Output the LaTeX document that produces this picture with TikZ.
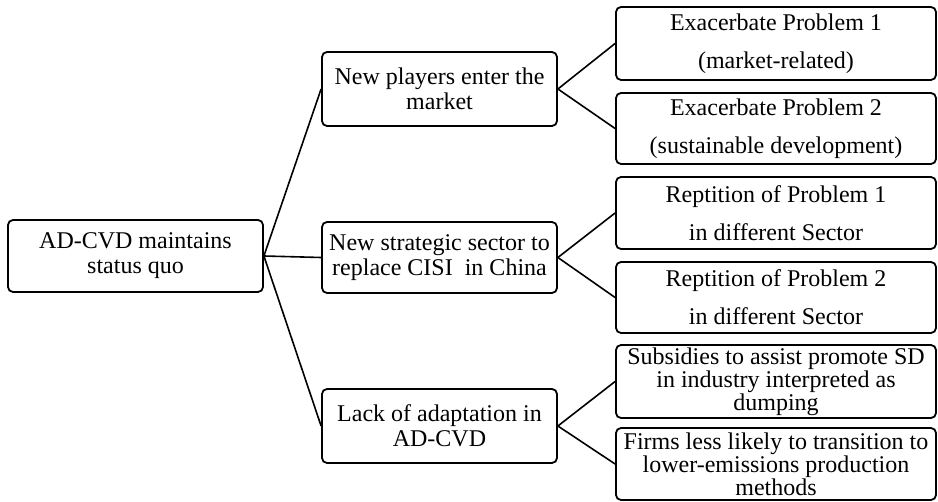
\documentclass[tikz,border=0pt]{standalone}
\usepackage{fontspec}
\setmainfont{Liberation Serif}
\begin{document}
\begin{tikzpicture}[x=1pt,y=-1pt,
  box/.style={draw=black, line width=1.8pt, rounded corners=5pt, inner sep=0pt, align=center,
    font=\fontsize{24}{25}\selectfont},
  wide/.style={box, font=\fontsize{24}{38}\selectfont},
  tight/.style={box, font=\fontsize{24}{23}\selectfont},
  link/.style={draw=black, line width=1.6pt}]
\useasboundingbox (0,0) rectangle (938,502);
\node[box, minimum width=255pt, minimum height=72pt] (root) at (135.5,256) {AD-CVD maintains\\status quo};
\node[box, minimum width=235pt, minimum height=74pt] (np) at (439.5,89) {New players enter the\\market};
\node[box, minimum width=235pt, minimum height=71pt] (ns) at (439.5,257.5) {New strategic sector to\\replace CISI\ \ in China};
\node[box, minimum width=235pt, minimum height=74pt] (la) at (439.5,426) {Lack of adaptation in\\AD-CVD};
\node[wide, minimum width=320pt, minimum height=73pt] (e1) at (776,43.5) {Exacerbate Problem 1\\(market-related)};
\node[wide, minimum width=320pt, minimum height=71pt] (e2) at (776,128.5) {Exacerbate Problem 2\\(sustainable development)};
\node[wide, minimum width=320pt, minimum height=72pt] (r1) at (776,213) {Reptition of Problem 1\\in different Sector};
\node[wide, minimum width=320pt, minimum height=71pt] (r2) at (776,297.5) {Reptition of Problem 2\\in different Sector};
\node[tight, minimum width=320pt, minimum height=73pt] (s1) at (776,381.5) {Subsidies to assist promote SD\\in industry interpreted as\\dumping};
\node[tight, minimum width=320pt, minimum height=72pt] (f1) at (776,464) {Firms less likely to transition to\\lower-emissions production\\methods};
\draw[link] (root.east) -- (np.west);
\draw[link] (root.east) -- (ns.west);
\draw[link] (root.east) -- (la.west);
\draw[link] (np.east) -- (e1.west);
\draw[link] (np.east) -- (e2.west);
\draw[link] (ns.east) -- (r1.west);
\draw[link] (ns.east) -- (r2.west);
\draw[link] (la.east) -- (s1.west);
\draw[link] (la.east) -- (f1.west);
\end{tikzpicture}
\end{document}
